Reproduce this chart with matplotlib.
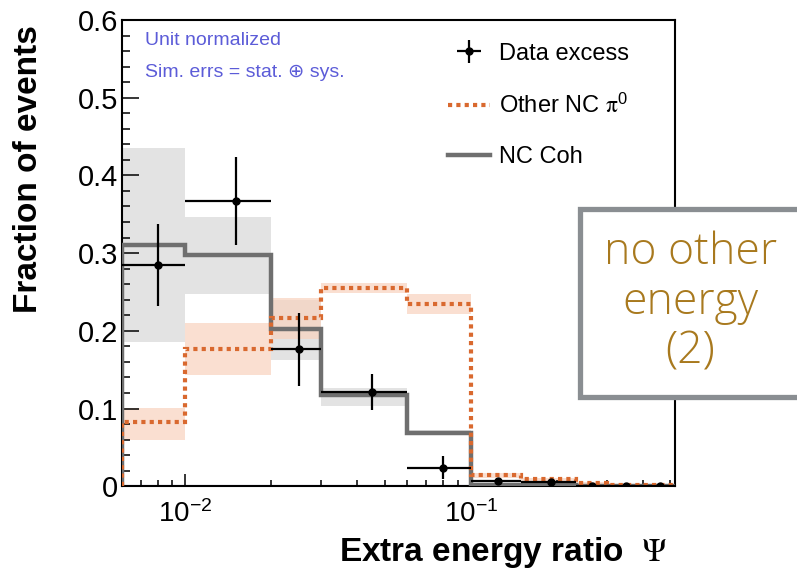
import numpy as np
import matplotlib
matplotlib.use("Agg")
import matplotlib.pyplot as plt
from matplotlib.lines import Line2D
from matplotlib.patches import Rectangle
from matplotlib.ticker import FixedLocator, FixedFormatter, NullFormatter

plt.rcParams["font.family"] = ["Liberation Sans", "DejaVu Sans"]
plt.rcParams["mathtext.fontset"] = "stix"

# -----------------------
# Data
# -----------------------
bin_edges = [0.006, 0.01, 0.02, 0.03, 0.06, 0.1, 0.15, 0.233, 0.3, 0.4, 0.52]

nc_coh = [0.310, 0.297, 0.202, 0.118, 0.069, 0.001, 0.001, 0.0, 0.0, 0.0]
nc_coh_lo = [0.186, 0.247, 0.162, 0.103, 0.066, 0.0, 0.0, 0.0, 0.0, 0.0]
nc_coh_hi = [0.435, 0.346, 0.240, 0.127, 0.072, 0.002, 0.002, 0.0, 0.0, 0.0]

other_pi0 = [0.082, 0.177, 0.216, 0.255, 0.234, 0.014, 0.009, 0.0035, 0.002, 0.002]
other_pi0_lo = [0.060, 0.143, 0.190, 0.249, 0.221, 0.011, 0.007, 0.002, 0.001, 0.001]
other_pi0_hi = [0.101, 0.210, 0.242, 0.262, 0.247, 0.017, 0.011, 0.005, 0.003, 0.003]

data_excess = [0.285, 0.367, 0.176, 0.121, 0.024, 0.007, 0.005, 0.0, 0.0, 0.0]
data_err = [0.053, 0.057, 0.047, 0.023, 0.015, 0.003, 0.003, 0.001, 0.001, 0.001]

# blue baseline drawn under the first five bins
zero_line = [0.0, 0.0, 0.0, 0.0, 0.0]

y_ticks = [0.0, 0.1, 0.2, 0.3, 0.4, 0.5, 0.6]
y_tick_labels = ["0", "0.1", "0.2", "0.3", "0.4", "0.5", "0.6"]

# -----------------------
# Plot
# -----------------------
edges = np.array(bin_edges)
centers = 0.5 * (edges[:-1] + edges[1:])
half_w = 0.5 * (edges[1:] - edges[:-1])

fig = plt.figure(figsize=(7.97, 5.72), dpi=100)
ax = fig.add_axes([0.153, 0.150, 0.694, 0.815])

gray = "#6f6f6f"
orange = "#d9692f"

ax.stairs(nc_coh_hi, edges, baseline=nc_coh_lo, fill=True,
          facecolor="#e3e3e3", edgecolor="none", zorder=1)
ax.stairs(other_pi0_hi, edges, baseline=other_pi0_lo, fill=True,
          facecolor="#f8d2be", edgecolor="none", alpha=0.7, zorder=1.1)

ax.stairs(zero_line, edges[:6], baseline=0, color="#000080", lw=2.2, zorder=2)
ax.stairs(nc_coh, edges, baseline=0, color=gray, lw=3.2, zorder=3)
ax.stairs(other_pi0, edges, baseline=0, color=orange, lw=3.0,
          linestyle=(0, (1, 1)), zorder=4)

eb = ax.errorbar(centers, data_excess, xerr=half_w, yerr=data_err, fmt="o",
                 color="black", ms=5, elinewidth=1.6, capsize=0, zorder=5)

ax.set_xscale("log")
ax.set_xlim(bin_edges[0], bin_edges[-1])
ax.set_ylim(0, 0.6)

ax.xaxis.set_major_locator(FixedLocator([0.01, 0.1]))
ax.xaxis.set_major_formatter(FixedFormatter([r"$\mathdefault{10^{-2}}$", r"$\mathdefault{10^{-1}}$"]))
ax.xaxis.set_minor_locator(FixedLocator([0.006, 0.007, 0.008, 0.009, 0.02, 0.03, 0.04,
                                         0.05, 0.06, 0.07, 0.08, 0.09, 0.2, 0.3, 0.4, 0.5]))
ax.xaxis.set_minor_formatter(NullFormatter())

ax.yaxis.set_major_locator(FixedLocator(y_ticks))
ax.yaxis.set_major_formatter(FixedFormatter(y_tick_labels))
ax.yaxis.set_minor_locator(FixedLocator(np.arange(0, 0.601, 0.02)))

ax.tick_params(axis="both", which="both", direction="in", top=False, right=False,
               width=1.1)
ax.tick_params(axis="y", which="major", length=12, pad=3, labelsize=21)
ax.tick_params(axis="y", which="minor", length=6)
ax.tick_params(axis="x", which="major", length=8.5, pad=10, labelsize=20)
ax.tick_params(axis="x", which="minor", length=4.5)
for sp in ax.spines.values():
    sp.set_linewidth(1.5)

# annotations
blue = "#5c5cd8"
ax.text(0.042, 0.957, "Unit normalized", transform=ax.transAxes, color=blue,
        fontsize=14, va="center", ha="left")
ax.text(0.042, 0.888, "Sim. errs = stat. \u2295 sys.", transform=ax.transAxes, color=blue,
        fontsize=14, va="center", ha="left")

handles = [eb,
           Line2D([], [], color=orange, lw=3.0, linestyle=(0, (1, 1))),
           Line2D([], [], color=gray, lw=3.2)]
labels = ["Data excess", r"Other NC $\mathrm{\pi}^{\mathdefault{0}}$", "NC Coh"]
ax.legend(handles, labels, loc="upper left", bbox_to_anchor=(0.56, 0.987),
          frameon=False, fontsize=17, handlelength=1.75, handletextpad=0.4,
          labelspacing=1.2, borderpad=0.2)

fig.text(0.036, 0.7045, "Fraction of events", rotation=90, fontsize=24,
         fontweight="bold", ha="center", va="center")
fig.text(0.4253, 0.0192, r"Extra energy ratio  $\Psi$", fontsize=24,
         fontweight="bold", ha="left", va="baseline")

# side box
box = Rectangle((0.7277, 0.3068), 0.35, 0.327, transform=fig.transFigure,
                facecolor="white", edgecolor="#8a8e92", lw=3.8, zorder=5,
                clip_on=False)
fig.patches.append(box)
fig.text(0.866, 0.471, "no other\nenergy\n(2)", color="#a8791e", fontsize=32,
         family=["Open Sans", "Lato", "DejaVu Sans"], fontweight="light",
         ha="center", va="center", linespacing=1.15, zorder=6)

fig.savefig("out.png", dpi=100)
